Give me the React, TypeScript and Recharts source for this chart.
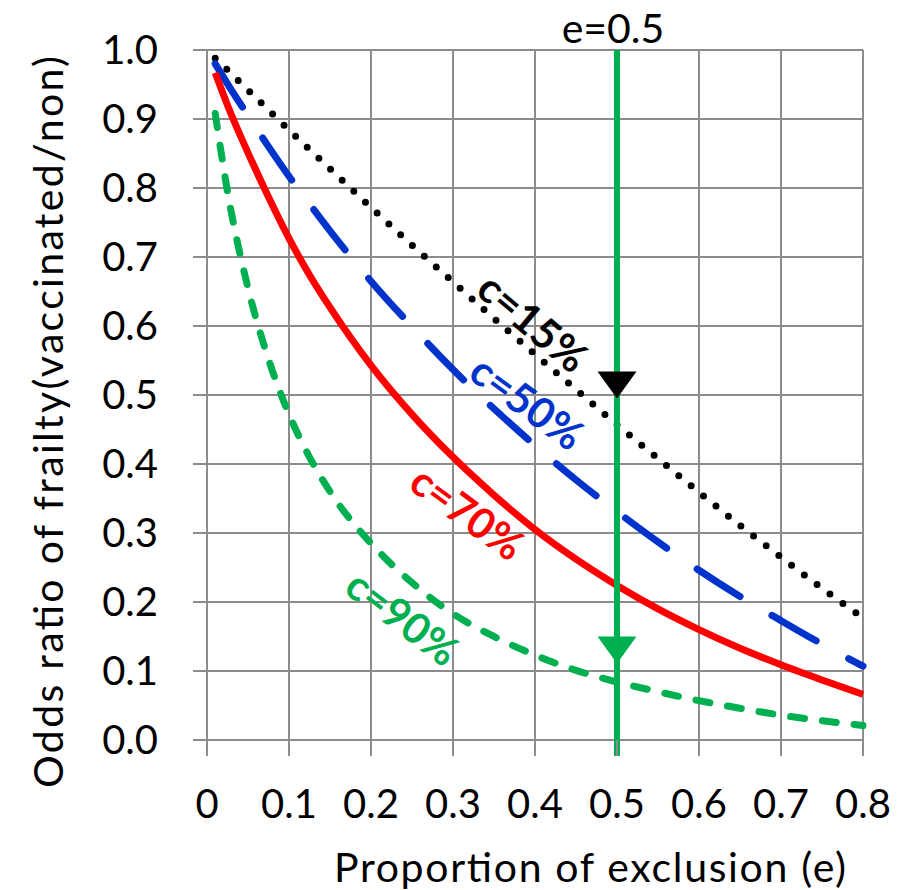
import React from "react";
import {
  LineChart,
  Line,
  XAxis,
  YAxis,
  CartesianGrid,
  ReferenceLine,
  ReferenceDot,
  Label,
} from "recharts";

document.body.style.margin = "0";

// proportion of exclusion (e)
const exclusion = [
  0.01, 0.025, 0.05, 0.075, 0.1, 0.125, 0.15, 0.2, 0.25, 0.3, 0.35, 0.4, 0.45,
  0.5, 0.55, 0.6, 0.65, 0.7, 0.75, 0.8,
];

// odds ratio of frailty, one list per coverage c
const orC15 = [
  0.988, 0.971, 0.942, 0.913, 0.884, 0.856, 0.828, 0.772, 0.717, 0.664, 0.611,
  0.559, 0.508, 0.457, 0.408, 0.359, 0.311, 0.265, 0.22, 0.177,
];
const orC50 = [
  0.98, 0.951, 0.905, 0.86, 0.817, 0.777, 0.738, 0.665, 0.599, 0.537, 0.48,
  0.427, 0.377, 0.331, 0.287, 0.246, 0.208, 0.173, 0.139, 0.107,
];
const orC70 = [
  0.967, 0.92, 0.851, 0.787, 0.727, 0.674, 0.627, 0.543, 0.472, 0.41, 0.355,
  0.305, 0.262, 0.224, 0.19, 0.16, 0.133, 0.109, 0.087, 0.066,
];
const orC90 = [
  0.908, 0.795, 0.655, 0.552, 0.472, 0.41, 0.36, 0.285, 0.228, 0.183, 0.15,
  0.123, 0.101, 0.084, 0.07, 0.057, 0.046, 0.036, 0.028, 0.021,
];

const xTicks = [0, 0.1, 0.2, 0.3, 0.4, 0.5, 0.6, 0.7, 0.8];
const yTicks = [0, 0.1, 0.2, 0.3, 0.4, 0.5, 0.6, 0.7, 0.8, 0.9, 1.0];

const markE = 0.5;
const markTop = 0.495; // black arrow tip
const markBottom = 0.111; // green arrow tip

const curveLabels = [
  { text: "c=15%", e: 0.398, v: 0.606, angle: 40, color: "#000000" },
  { text: "c=50%", e: 0.391, v: 0.49, angle: 36, color: "#0033cc" },
  { text: "c=70%", e: 0.318, v: 0.33, angle: 36, color: "#ff0000" },
  { text: "c=90%", e: 0.239, v: 0.178, angle: 37, color: "#00b050" },
];

const rows = exclusion.map((e, i) => ({
  e,
  c15: orC15[i],
  c50: orC50[i],
  c70: orC70[i],
  c90: orC90[i],
}));

const FONT = "Lato, 'Open Sans', sans-serif";
const GRID = "#8c8c8c";
const GREEN = "#00b050";

function arrow(color: string) {
  return (p: any) => (
    <polygon
      points={`${p.cx - 19.5},${p.cy - 27} ${p.cx + 19.5},${p.cy - 27} ${p.cx},${p.cy}`}
      fill={color}
    />
  );
}

export default function App() {
  return (
    <div style={{ width: 911, height: 890, fontFamily: FONT }}>
      <LineChart
        width={911}
        height={890}
        data={rows}
        margin={{ top: 50, right: 48, left: 0, bottom: 0 }}
      >
        <CartesianGrid stroke={GRID} strokeWidth={2} />
        <XAxis
          dataKey="e"
          type="number"
          domain={[0, 0.8]}
          ticks={xTicks}
          interval={0}
          height={150}
          tickSize={16}
          tickMargin={34}
          axisLine={false}
          tickLine={{ stroke: GRID, strokeWidth: 2 }}
          tick={{ fontSize: 40, fill: "#000", fontFamily: FONT }}
          tickFormatter={(v: number) => (v === 0 ? "0" : v.toFixed(1))}
          label={
            <Label
              content={(p: any) => {
                const vb = p.viewBox;
                return (
                  <text
                    x={vb.x + vb.width / 2 + 55}
                    y={vb.y + 142}
                    textAnchor="middle"
                    fontSize={41}
                    fontFamily={FONT}
                    fill="#000"
                    textLength={512}
                    lengthAdjust="spacing"
                  >
                    Proportion of exclusion (e)
                  </text>
                );
              }}
            />
          }
        />
        <YAxis
          type="number"
          domain={[0, 1]}
          ticks={yTicks}
          interval={0}
          width={207}
          tickSize={14}
          tickMargin={35}
          axisLine={false}
          tickLine={{ stroke: GRID, strokeWidth: 2 }}
          tick={{ fontSize: 40, fill: "#000", fontFamily: FONT }}
          tickFormatter={(v: number) => v.toFixed(1)}
          label={
            <Label
              content={(p: any) => {
                const vb = p.viewBox;
                const cx = vb.x + 47;
                const cy = vb.y + vb.height / 2 + 27;
                return (
                  <text
                    x={cx}
                    y={cy}
                    transform={`rotate(-90 ${cx} ${cy})`}
                    textAnchor="middle"
                    dominantBaseline="central"
                    fontSize={41}
                    fontFamily={FONT}
                    fill="#000"
                    textLength={732}
                    lengthAdjust="spacing"
                  >
                    Odds ratio of frailty(vaccinated/non)
                  </text>
                );
              }}
            />
          }
        />
        <Line
          dataKey="c15"
          type="monotone"
          stroke="#000000"
          strokeWidth={7}
          strokeDasharray="0 16"
          strokeLinecap="round"
          dot={false}
          isAnimationActive={false}
        />
        <Line
          dataKey="c50"
          type="monotone"
          stroke="#0033cc"
          strokeWidth={7}
          strokeDasharray="51 37"
          strokeLinecap="round"
          dot={false}
          isAnimationActive={false}
        />
        <Line
          dataKey="c70"
          type="monotone"
          stroke="#ff0000"
          strokeWidth={7}
          dot={false}
          isAnimationActive={false}
        />
        <Line
          dataKey="c90"
          type="monotone"
          stroke={GREEN}
          strokeWidth={7}
          strokeDasharray="14 18"
          strokeLinecap="round"
          dot={false}
          isAnimationActive={false}
        />
        <ReferenceLine
          segment={[
            { x: markE, y: -0.0232 },
            { x: markE, y: 1 },
          ]}
          stroke={GREEN}
          strokeWidth={6}
          ifOverflow="visible"
        />
        <ReferenceDot x={markE} y={markTop} shape={arrow("#000000")} />
        <ReferenceDot x={markE} y={markBottom} shape={arrow(GREEN)} />
        <ReferenceDot
          x={markE}
          y={1}
          shape={(p: any) => (
            <text
              x={p.cx - 4}
              y={p.cy - 7}
              textAnchor="middle"
              fontSize={41}
              fontFamily={FONT}
              fill="#000"
            >
              e=0.5
            </text>
          )}
        />
        {curveLabels.map((l) => (
          <ReferenceDot
            key={l.text}
            x={l.e}
            y={l.v}
            shape={(p: any) => (
              <text
                x={p.cx}
                y={p.cy}
                transform={`rotate(${l.angle} ${p.cx} ${p.cy})`}
                textAnchor="middle"
                dominantBaseline="central"
                fontSize={42}
                fontWeight="bold"
                fontFamily={FONT}
                fill={l.color}
              >
                {l.text}
              </text>
            )}
          />
        ))}
      </LineChart>
    </div>
  );
}
